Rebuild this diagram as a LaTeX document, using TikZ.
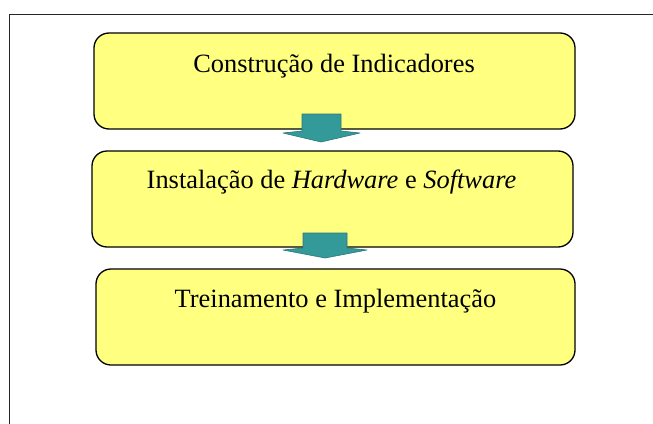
\documentclass[tikz,border=0pt]{standalone}
\usepackage{fontspec}
\setmainfont{Liberation Serif}
\definecolor{boxyellow}{RGB}{255,255,128}
\definecolor{arrowteal}{RGB}{51,153,153}
\definecolor{arrowdark}{RGB}{40,120,120}
\begin{document}
\begin{tikzpicture}[x=1pt,y=-1pt,
  stagebox/.style={draw=black, line width=1.3pt, fill=boxyellow, rounded corners=15pt, inner sep=0pt},
  stagetext/.style={anchor=base, inner sep=0pt, font=\fontsize{26.4}{30}\selectfont},
  flowarrow/.style={fill=arrowteal, draw=arrowdark, line width=0.6pt, line join=round}]
\useasboundingbox (0,0) rectangle (653,423);
\fill[white] (0,0) rectangle (653,423);
% outer frame (only left and top edges visible)
\draw[line width=1pt, color=black!85] (9,430) -- (9,14) -- (660,14);
% boxes
\node[stagebox, minimum width=481pt, minimum height=96pt] (b1) at (334.5,81) {};
\node[stagebox, minimum width=481pt, minimum height=96pt] (b2) at (332.5,199) {};
\node[stagebox, minimum width=479pt, minimum height=96pt] (b3) at (335.5,317) {};
% texts
\node[stagetext] (t1) at (334,72) {Construção de Indicadores};
\node[stagetext] (t2) at (331.5,188) {Instalação de \textit{Hardware} e \textit{Software}};
\node[stagetext] (t3) at (335.5,307) {Treinamento e Implementação};
% arrows
\coordinate (a1) at (321.5,114);
\coordinate (a2) at (325,233);
\draw[flowarrow] (302,114) -- (341,114) -- (341,131) -- (360,133) -- (321,142) -- (283,133) -- (302,131) -- cycle;
\draw[flowarrow] (303,233) -- (347,233) -- (347,248) -- (367,250) -- (325,258) -- (283,250) -- (303,248) -- cycle;
\end{tikzpicture}
\end{document}
